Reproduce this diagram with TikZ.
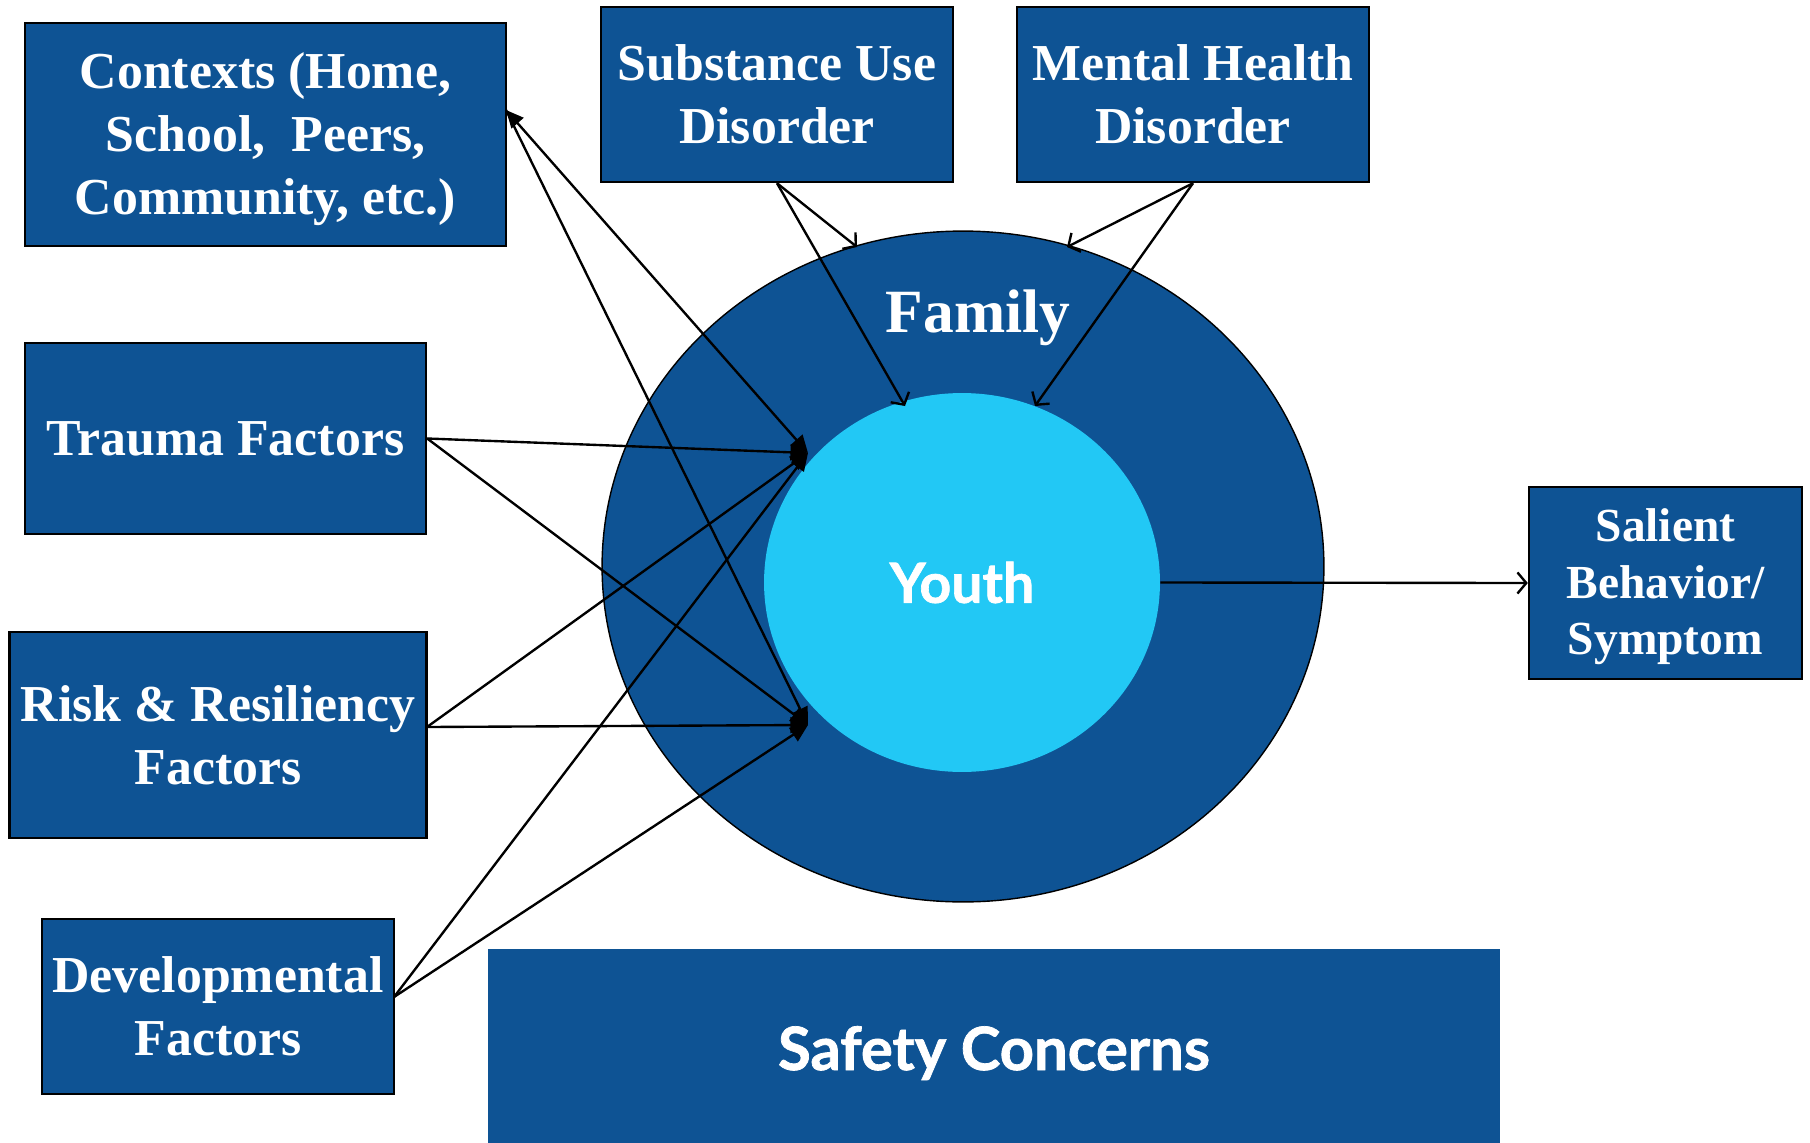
\documentclass[tikz,border=0pt]{standalone}
\usepackage{fontspec}
\setmainfont{Liberation Serif}
\newfontfamily\gotica[BoldFeatures={FakeBold=1.2}]{Lato}
\usepackage{tikz}
\usetikzlibrary{shapes.geometric, arrows.meta}
\definecolor{azul}{RGB}{14,83,148}
\definecolor{celeste}{RGB}{34,200,245}
\tikzstyle{caja}=[rectangle, draw=black, line width=1.4pt, fill=azul, text=white, align=center, inner sep=0pt, font=\fontsize{29.5}{36}\selectfont\bfseries]
\tikzstyle{flecha}=[line width=1.35pt, -{Triangle[length=10pt,width=9pt]}]
\tikzstyle{abierta}=[line width=1.35pt, -{Straight Barb[length=5pt,width=12pt]}]

\begin{document}
\begin{tikzpicture}[x=0.02cm, y=-0.02cm]
            \useasboundingbox (0,0) rectangle (1810,1143);
            % Elipses
            \node[ellipse, draw=black, line width=0.8pt, fill=azul, minimum width=14.44cm, minimum height=13.42cm] (familia) at (963,566.5) {};
            \node[ellipse, fill=celeste, inner sep=0pt, minimum width=7.92cm, minimum height=7.58cm, text=white, font=\gotica\bfseries\fontsize{31.5}{36}\selectfont] (joven) at (962,582.5) {Youth};
            \node[anchor=base, text=white, font=\fontsize{35}{40}\selectfont\bfseries] (famlbl) at (978,332) {Family};
            % Cajas
            \node[caja, minimum width=9.62cm, minimum height=4.46cm, text height=3.22cm, text depth=0cm] (ctx) at (265.5,134.5) {Contexts (Home,\\ School,\ \ Peers,\\ Community, etc.)};
            \node[caja, minimum width=8.02cm, minimum height=3.82cm] (trauma) at (225.5,438.5) {Trauma Factors};
            \node[caja, minimum width=8.34cm, minimum height=4.12cm] (riesgo) at (218,735) {Risk \& Resiliency\\ Factors};
            \node[caja, minimum width=7.04cm, minimum height=3.50cm] (desarrollo) at (218,1006.5) {Developmental\\ Factors};
            \node[caja, minimum width=7.04cm, minimum height=3.50cm] (sustancia) at (777,94.5) {Substance Use\\ Disorder};
            \node[caja, minimum width=7.04cm, minimum height=3.50cm] (mental) at (1193,94.5) {Mental Health\\ Disorder};
            \node[caja, minimum width=5.46cm, minimum height=3.84cm, text height=2.88cm, text depth=0cm, font=\fontsize{27}{32.2}\selectfont\bfseries] (salient) at (1665.5,583) {Salient\\ Behavior/\\ Symptom};
            \node[rectangle, fill=azul, text=white, minimum width=20.24cm, minimum height=3.88cm, text height=0.96cm, text depth=0cm, font=\gotica\bfseries\fontsize{34}{40}\selectfont] (seguridad) at (994,1046) {Safety Concerns};
            % Puntos
            \coordinate (ctxp) at (506,110);
            \coordinate (riesgop) at (427,727);
            \coordinate (desp) at (394,997);
            \coordinate (p1) at (808,453);
            \coordinate (p2) at (808,725);
            \coordinate (f1) at (857,247);
            \coordinate (y1) at (905,406);
            \coordinate (f2) at (1067,247);
            \coordinate (y2) at (1035,406);
            % Flechas
            \draw[flecha, {Triangle[length=10pt,width=9pt]}-{Triangle[length=10pt,width=9pt]}] (ctxp) -- (p1);
            \draw[flecha] (ctxp) -- (p2);
            \draw[flecha] (trauma.east) -- (p1);
            \draw[flecha] (trauma.east) -- (p2);
            \draw[flecha] (riesgop) -- (p1);
            \draw[flecha] (riesgop) -- (p2);
            \draw[flecha] (desp) -- (p1);
            \draw[flecha] (desp) -- (p2);
            \draw[abierta] (sustancia.south) -- (f1);
            \draw[abierta] (sustancia.south) -- (y1);
            \draw[abierta] (mental.south) -- (f2);
            \draw[abierta] (mental.south) -- (y2);
            \draw[abierta] (joven.east) -- (salient.west);
        \end{tikzpicture}
\end{document}
